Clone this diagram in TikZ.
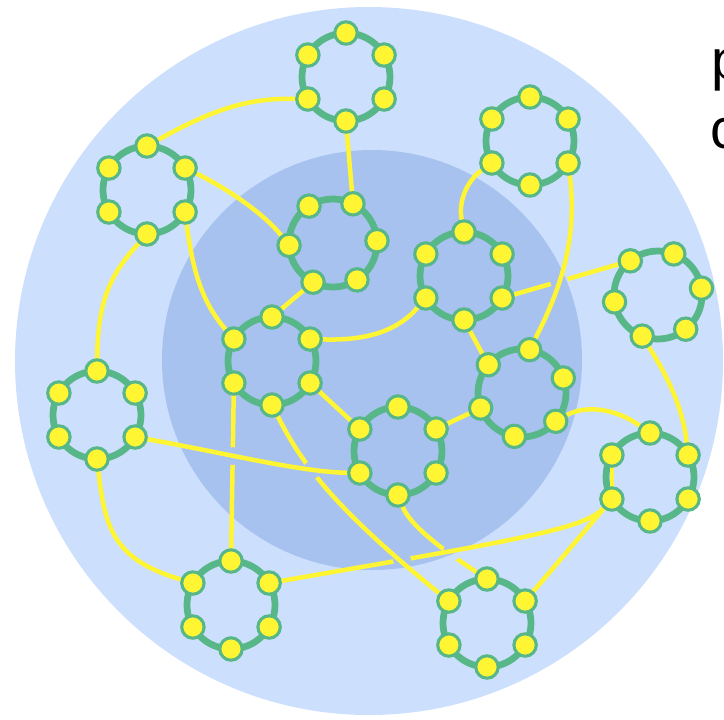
\documentclass[tikz,border=0pt]{standalone}
\definecolor{AzulFondo}{RGB}{204,223,252}
\definecolor{AzulCentro}{RGB}{167,194,238}
\definecolor{VerdeAnillo}{RGB}{87,183,136}
\definecolor{AmarilloNodo}{RGB}{255,245,50}
\usepackage{fontspec}
\newfontfamily\letra{Liberation Sans}
\usepackage{tikz}
\pgfdeclarelayer{fondo}
\pgfdeclarelayer{enlaces}
\pgfsetlayers{fondo,enlaces,main}

\begin{document}
\begin{tikzpicture}[x=0.025cm, y=-0.025cm,
	anillo/.style={draw=VerdeAnillo, line width=4.8pt},
	bola/.style={circle, draw=VerdeAnillo, line width=2.2pt,
		fill=AmarilloNodo, minimum size=5.6mm, inner sep=0pt},
	enlace/.style={draw=AmarilloNodo, line width=3.2pt, line cap=round},
	hueco/.style={even odd rule},
	texto/.style={font=\letra\fontsize{40}{48}\selectfont, inner sep=0pt,
		anchor=base west}]

	\useasboundingbox (0,0) rectangle (724,719);

	\begin{pgfonlayer}{fondo}
		\fill[AzulFondo] (369,361) circle (354);
		\fill[AzulCentro] (372,360) circle (210);
	\end{pgfonlayer}

	\foreach \n/\cx/\cy/\r in {a/346/77/30, b/530/141/30, c/147/190/30,
		d/333/243/-3, e/464/276/30, f/658/295/-9, g/272/361/30, h/398/451/30,
		i/522/393/-20, j/650/477/30, k/487/623/30, l/231/605/30, m/97/415/30}{
		\begin{pgfonlayer}{fondo}
			\draw[anillo] (\cx,\cy) circle (44);
		\end{pgfonlayer}
		\foreach \k in {0,...,5}
			\node[bola] (\n\k) at ({\cx+44*cos(\r+60*\k)},{\cy+44*sin(\r+60*\k)}) {};
	}

	\begin{pgfonlayer}{enlaces}
		\draw[enlace] (c4) .. controls (215,108) and (250,98) .. (a2);
		\draw[enlace] (a1) -- (d5);
		\draw[enlace] (c5) .. controls (230,190) and (265,215) .. (d3);
		\draw[enlace] (c0) .. controls (192,265) and (200,300) .. (g3);
		\draw[enlace] (c1) .. controls (110,275) and (98,300) .. (m4);
		\draw[enlace] (d2) -- (g4);
		\draw[enlace] (g5) .. controls (372,341) and (400,328) .. (e2);
		\draw[enlace] (e4) .. controls (458,200) and (468,180) .. (b2);
		\draw[enlace] (b0) .. controls (578,240) and (560,290) .. (i5);
		\draw[enlace] (e1) -- (i4);
		\draw[enlace] (g0) -- (h3);
		\draw[enlace] (h5) -- (i3);
		\draw[enlace] (i1) .. controls (585,405) and (615,408) .. (j4);
		\draw[enlace] (f2) .. controls (660,365) and (682,400) .. (j5);
		\draw[enlace] (j3) -- (j2);
		\draw[enlace] (m0) .. controls (220,452) and (300,472) .. (h2);
		\draw[enlace] (m1) .. controls (105,530) and (115,560) .. (l3);
		\draw[enlace] (j2) -- (k5);

		\begin{scope}[hueco]
			\clip (0,0) rectangle (724,719) (559,281) circle (9);
			\draw[enlace] (e0) -- (f4);
		\end{scope}
		\begin{scope}[hueco]
			\clip (0,0) rectangle (724,719) (402,560) circle (9);
			\draw[enlace] (j2) .. controls (585,528) and (530,538) .. (l5);
		\end{scope}
		\begin{scope}[hueco]
			\clip (0,0) rectangle (724,719) (452,552) circle (9);
			\draw[enlace] (h1) .. controls (410,525) and (440,548) .. (k4);
		\end{scope}
		\begin{scope}[hueco]
			\clip (0,0) rectangle (724,719) (312,470) circle (9);
			\draw[enlace] (g1) .. controls (300,460) and (330,505) .. (k3);
		\end{scope}
		\begin{scope}[hueco]
			\clip (0,0) rectangle (724,719) (233,456) circle (9);
			\draw[enlace] (g2) -- (l4);
		\end{scope}
	\end{pgfonlayer}

	\node[texto] (p) at (711,79) {p};
	\node[texto] (q) at (710,148) {c};
\end{tikzpicture}
\end{document}
